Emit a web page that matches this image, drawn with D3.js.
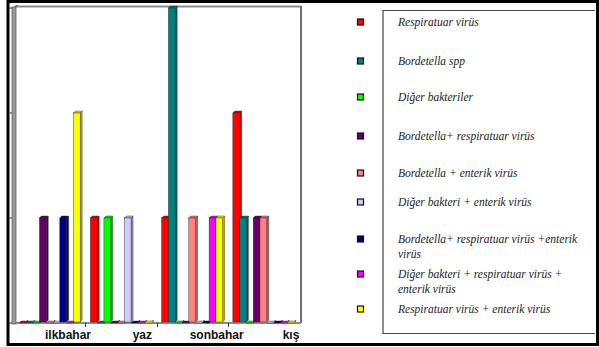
<!DOCTYPE html>
<html>
<head>
<meta charset="utf-8">
<script src="https://cdn.jsdelivr.net/npm/d3@7"></script>
<style>
  html, body { margin: 0; padding: 0; background: #fff; }
  svg { display: block; }
</style>
</head>
<body>
<script>
// ---------------- DATA ----------------
const categories = ["ilkbahar", "yaz", "sonbahar", "kış"];
const seriesNames = [
  "Respiratuar virüs",
  "Bordetella spp",
  "Diğer bakteriler",
  "Bordetella+ respiratuar virüs",
  "Bordetella + enterik virüs",
  "Diğer bakteri + enterik virüs",
  "Bordetella+ respiratuar virüs +enterik\nvirüs",
  "Diğer bakteri + respiratuar virüs +\nenterik virüs",
  "Respiratuar virüs + enterik virüs"
];
const seriesColors = ["#FF0000", "#008080", "#00FF00", "#660066", "#FF8080",
                      "#CCCCFF", "#000080", "#FF00FF", "#FFFF00"];
const respiratuarVirus      = [0, 1, 1, 2];
const bordetellaSpp         = [0, 0, 3, 1];
const digerBakteriler       = [0, 1, 0, 0];
const bordRespVirus         = [1, 0, 0, 1];
const bordEnterikVirus      = [0, 0, 1, 1];
const digerEnterikVirus     = [0, 1, 0, 0];
const bordRespEnterik       = [1, 0, 0, 0];
const digerRespEnterik      = [0, 0, 1, 0];
const respEnterikVirus      = [2, 0, 1, 0];
const seriesValues = [respiratuarVirus, bordetellaSpp, digerBakteriler, bordRespVirus,
  bordEnterikVirus, digerEnterikVirus, bordRespEnterik, digerRespEnterik, respEnterikVirus];
const yTicks = [0, 1, 2, 3];

// ---------------- LAYOUT ----------------
const W = 599, H = 347;
const legendRowY = [22, 61, 97, 136, 173, 202, 239, 274, 309];

const svg = d3.select("body").append("svg").attr("width", W).attr("height", H);
svg.append("rect").attr("width", W).attr("height", H).attr("fill", "#fff");

const x0 = d3.scaleBand().domain(categories).range([14, 299]).paddingInner(0).paddingOuter(0);
const x1 = d3.scaleBand().domain(d3.range(seriesNames.length))
  .range([0, x0.bandwidth()]).paddingInner(0).paddingOuter(0.75);
const y = d3.scaleLinear().domain([0, 3]).range([323, 8]);
const labelX = d3.scalePoint().domain(categories).range([68, 291]);

// plot walls
const g = svg.append("g");
g.append("line").attr("x1", 16).attr("x2", 301).attr("y1", 6.5).attr("y2", 6.5)
  .attr("stroke", "#8a8a8a").attr("stroke-width", 2);
g.append("line").attr("x1", 301).attr("x2", 301).attr("y1", 6).attr("y2", 323)
  .attr("stroke", "#6f6f6f").attr("stroke-width", 2);
g.append("path").attr("d", "M13,8 L16,5 L18,5 L15,8 Z").attr("fill", "#7a5a3a");
g.append("line").attr("x1", 14).attr("x2", 301).attr("y1", 323).attr("y2", 323)
  .attr("stroke", "#8a8a8a").attr("stroke-width", 2);
g.append("rect").attr("x", 12).attr("y", 7).attr("width", 4).attr("height", 317)
  .attr("fill", "#9a9a9a").attr("stroke", "#555").attr("stroke-width", 0.7);

// y ticks
g.selectAll(".yt").data(yTicks).join("line")
  .attr("x1", 9.5).attr("x2", 12).attr("y1", d => y(d)).attr("y2", d => y(d))
  .attr("stroke", "#333").attr("stroke-width", 1);

// x ticks at category boundaries
g.selectAll(".xt").data(categories.slice(1)).join("line")
  .attr("x1", d => Math.round(x0(d)) + 0.5).attr("x2", d => Math.round(x0(d)) + 0.5)
  .attr("y1", 323).attr("y2", 327).attr("stroke", "#333").attr("stroke-width", 1);

// bars (3D-ish)
const dd = 2;
const bars = [];
categories.forEach((c, ci) => {
  seriesValues.forEach((vals, si) => {
    bars.push({ c, si, v: vals[ci] });
  });
});
const barG = svg.append("g");
bars.forEach(b => {
  const x = x0(b.c) + x1(b.si), w = x1.bandwidth();
  const yt = y(b.v), yb = y(0) - 1;
  const col = d3.color(seriesColors[b.si]);
  const bg = barG.append("g");
  // side
  bg.append("path")
    .attr("d", `M${x + w},${yt} L${x + w + dd},${yt - dd} L${x + w + dd},${yb - dd} L${x + w},${yb} Z`)
    .attr("fill", col.darker(0.9)).attr("stroke", "#222").attr("stroke-width", 0.4);
  // top
  bg.append("path")
    .attr("d", `M${x},${yt} L${x + dd},${yt - dd} L${x + w + dd},${yt - dd} L${x + w},${yt} Z`)
    .attr("fill", col.darker(0.3)).attr("stroke", "#222").attr("stroke-width", 0.4);
  // front
  if (b.v > 0) {
    bg.append("rect").attr("x", x).attr("y", yt).attr("width", w).attr("height", yb - yt)
      .attr("fill", col).attr("stroke", "#222").attr("stroke-width", 0.4);
  }
});

// category labels
svg.selectAll(".cl").data(categories).join("text")
  .attr("x", d => labelX(d)).attr("y", 339)
  .attr("text-anchor", "middle")
  .attr("font-family", "Liberation Sans, Arial, sans-serif")
  .attr("font-weight", "bold").attr("font-size", 12)
  .attr("fill", "#111")
  .text(d => d);

// legend box
svg.append("path").attr("d", "M383,10.5 L595,10.5 M383,10 L383,333.5 L595,333.5")
  .attr("fill", "none").attr("stroke", "#444").attr("stroke-width", 1.2);

const leg = svg.append("g");
seriesNames.forEach((name, i) => {
  const cy = legendRowY[i];
  leg.append("rect").attr("x", 357.5).attr("y", cy - 3).attr("width", 6).attr("height", 6)
    .attr("fill", seriesColors[i]).attr("stroke", "#111").attr("stroke-width", 1.2);
  const lines = name.split("\n");
  lines.forEach((ln, li) => {
    leg.append("text").attr("x", 398).attr("y", cy + 4 + li * 15)
      .attr("font-family", "Liberation Serif, Times New Roman, serif")
      .attr("font-style", "italic").attr("font-size", 11.5)
      .attr("fill", "#222").text(ln);
  });
});

// outer frame
svg.append("rect").attr("x", 8).attr("y", 1.5).attr("width", 589.5).attr("height", 343)
  .attr("fill", "none").attr("stroke", "#000").attr("stroke-width", 3);
</script>
</body>
</html>
